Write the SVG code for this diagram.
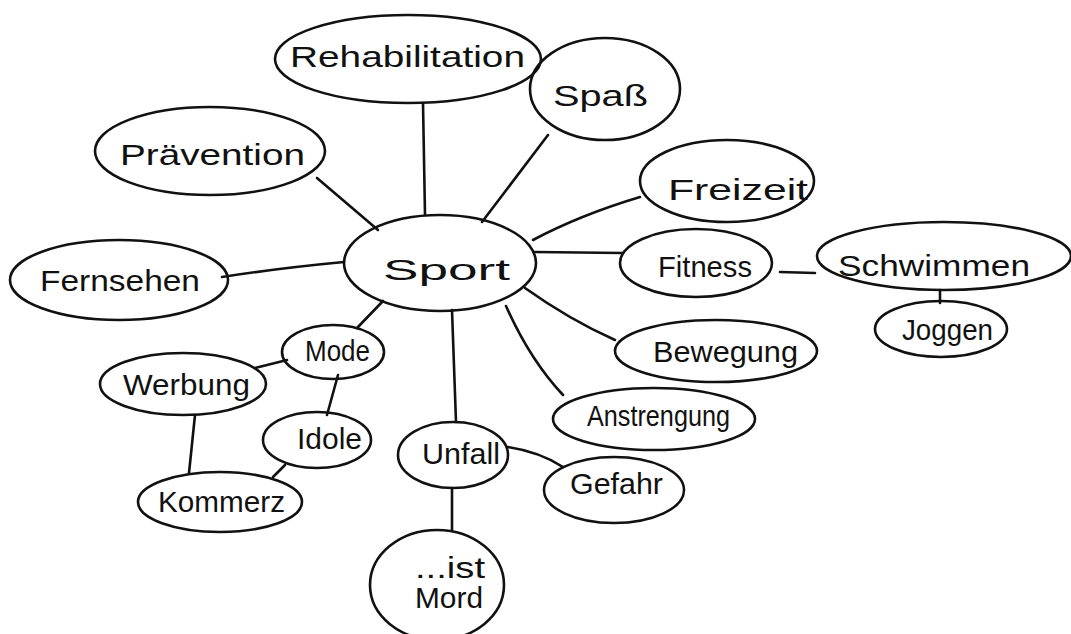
<svg xmlns="http://www.w3.org/2000/svg" width="1071" height="634" viewBox="0 0 1071 634">
<style>
.n ellipse{fill:none;stroke:#111;stroke-width:2.6}
.c line,.c path{fill:none;stroke:#111;stroke-width:2.6;stroke-linecap:round}
text{font-family:"Liberation Sans","DejaVu Sans",sans-serif;fill:#111;font-size:30px}
</style>
<rect width="1071" height="634" fill="#fff"/>
<g class="c" id="connectors">
<line x1="423" y1="103" x2="425" y2="215"/>
<line x1="317" y1="178" x2="378" y2="230"/>
<path d="M222 277 Q280 268 344 262"/>
<line x1="548" y1="135" x2="482" y2="222"/>
<path d="M640 197 Q580 215 533 240"/>
<line x1="623" y1="253" x2="535" y2="252"/>
<line x1="780" y1="272" x2="815" y2="273"/>
<line x1="940" y1="290" x2="940" y2="303"/>
<path d="M525 288 Q570 320 615 340"/>
<path d="M506 306 Q530 360 563 395"/>
<path d="M508 447 Q540 452 563 467"/>
<line x1="452" y1="310" x2="456" y2="422"/>
<line x1="452" y1="488" x2="452" y2="530"/>
<line x1="357" y1="328" x2="383" y2="301"/>
<line x1="287" y1="360" x2="255" y2="368"/>
<line x1="338" y1="375" x2="327" y2="415"/>
<line x1="195" y1="415" x2="189" y2="473"/>
<line x1="285" y1="465" x2="273" y2="477"/>
</g>
<g class="n" id="sport"><ellipse cx="440" cy="263" rx="96" ry="48"/><text x="383" y="280" font-size="44" textLength="127" lengthAdjust="spacingAndGlyphs">Sport</text></g>
<g class="n" id="rehabilitation"><ellipse cx="408" cy="59" rx="133" ry="44"/><text x="290" y="67" font-size="36" textLength="235" lengthAdjust="spacingAndGlyphs">Rehabilitation</text></g>
<g class="n" id="spass"><ellipse cx="605" cy="89" rx="75" ry="51"/><text x="553" y="106" font-size="38" textLength="95" lengthAdjust="spacingAndGlyphs">Spaß</text></g>
<g class="n" id="praevention"><ellipse cx="210" cy="151" rx="115" ry="44"/><text x="120" y="165" font-size="34" textLength="185" lengthAdjust="spacingAndGlyphs">Prävention</text></g>
<g class="n" id="fernsehen"><ellipse cx="119" cy="280" rx="109" ry="40"/><text x="40" y="291" font-size="30" textLength="160" lengthAdjust="spacingAndGlyphs">Fernsehen</text></g>
<g class="n" id="freizeit"><ellipse cx="727" cy="181" rx="87" ry="41"/><text x="668" y="200" font-size="32" textLength="140" lengthAdjust="spacingAndGlyphs">Freizeit</text></g>
<g class="n" id="fitness"><ellipse cx="696" cy="263" rx="76" ry="34"/><text x="658" y="277" font-size="30" textLength="94" lengthAdjust="spacingAndGlyphs">Fitness</text></g>
<g class="n" id="schwimmen"><ellipse cx="944" cy="256" rx="127" ry="34"/><text x="838" y="276" font-size="28" textLength="192" lengthAdjust="spacingAndGlyphs">Schwimmen</text></g>
<g class="n" id="joggen"><ellipse cx="941" cy="329" rx="66" ry="28"/><text x="902" y="340" font-size="26" textLength="91" lengthAdjust="spacingAndGlyphs">Joggen</text></g>
<g class="n" id="bewegung"><ellipse cx="716" cy="351" rx="101" ry="31"/><text x="653" y="362" font-size="30" textLength="145" lengthAdjust="spacingAndGlyphs">Bewegung</text></g>
<g class="n" id="anstrengung"><ellipse cx="654" cy="419" rx="101" ry="31"/><text x="587" y="426" font-size="26" textLength="143" lengthAdjust="spacingAndGlyphs">Anstrengung</text></g>
<g class="n" id="gefahr"><ellipse cx="614" cy="490" rx="70" ry="33"/><text x="570" y="494" font-size="28" textLength="93" lengthAdjust="spacingAndGlyphs">Gefahr</text></g>
<g class="n" id="unfall"><ellipse cx="453" cy="455" rx="55" ry="33"/><text x="422" y="464" font-size="26" textLength="78" lengthAdjust="spacingAndGlyphs">Unfall</text></g>
<g class="n" id="mord"><ellipse cx="437" cy="585" rx="67" ry="55"/><text x="415" y="578" font-size="24" textLength="70" lengthAdjust="spacingAndGlyphs">...ist</text><text x="415" y="608" font-size="26" textLength="68" lengthAdjust="spacingAndGlyphs">Mord</text></g>
<g class="n" id="mode"><ellipse cx="333" cy="352" rx="51" ry="27"/><text x="305" y="361" font-size="26" textLength="65" lengthAdjust="spacingAndGlyphs">Mode</text></g>
<g class="n" id="werbung"><ellipse cx="183" cy="384" rx="83" ry="31"/><text x="123" y="395" font-size="28" textLength="127" lengthAdjust="spacingAndGlyphs">Werbung</text></g>
<g class="n" id="idole"><ellipse cx="317" cy="440" rx="54" ry="28"/><text x="297" y="449" font-size="26" textLength="65" lengthAdjust="spacingAndGlyphs">Idole</text></g>
<g class="n" id="kommerz"><ellipse cx="220" cy="502" rx="82" ry="30"/><text x="158" y="512" font-size="28" textLength="127" lengthAdjust="spacingAndGlyphs">Kommerz</text></g>
</svg>
